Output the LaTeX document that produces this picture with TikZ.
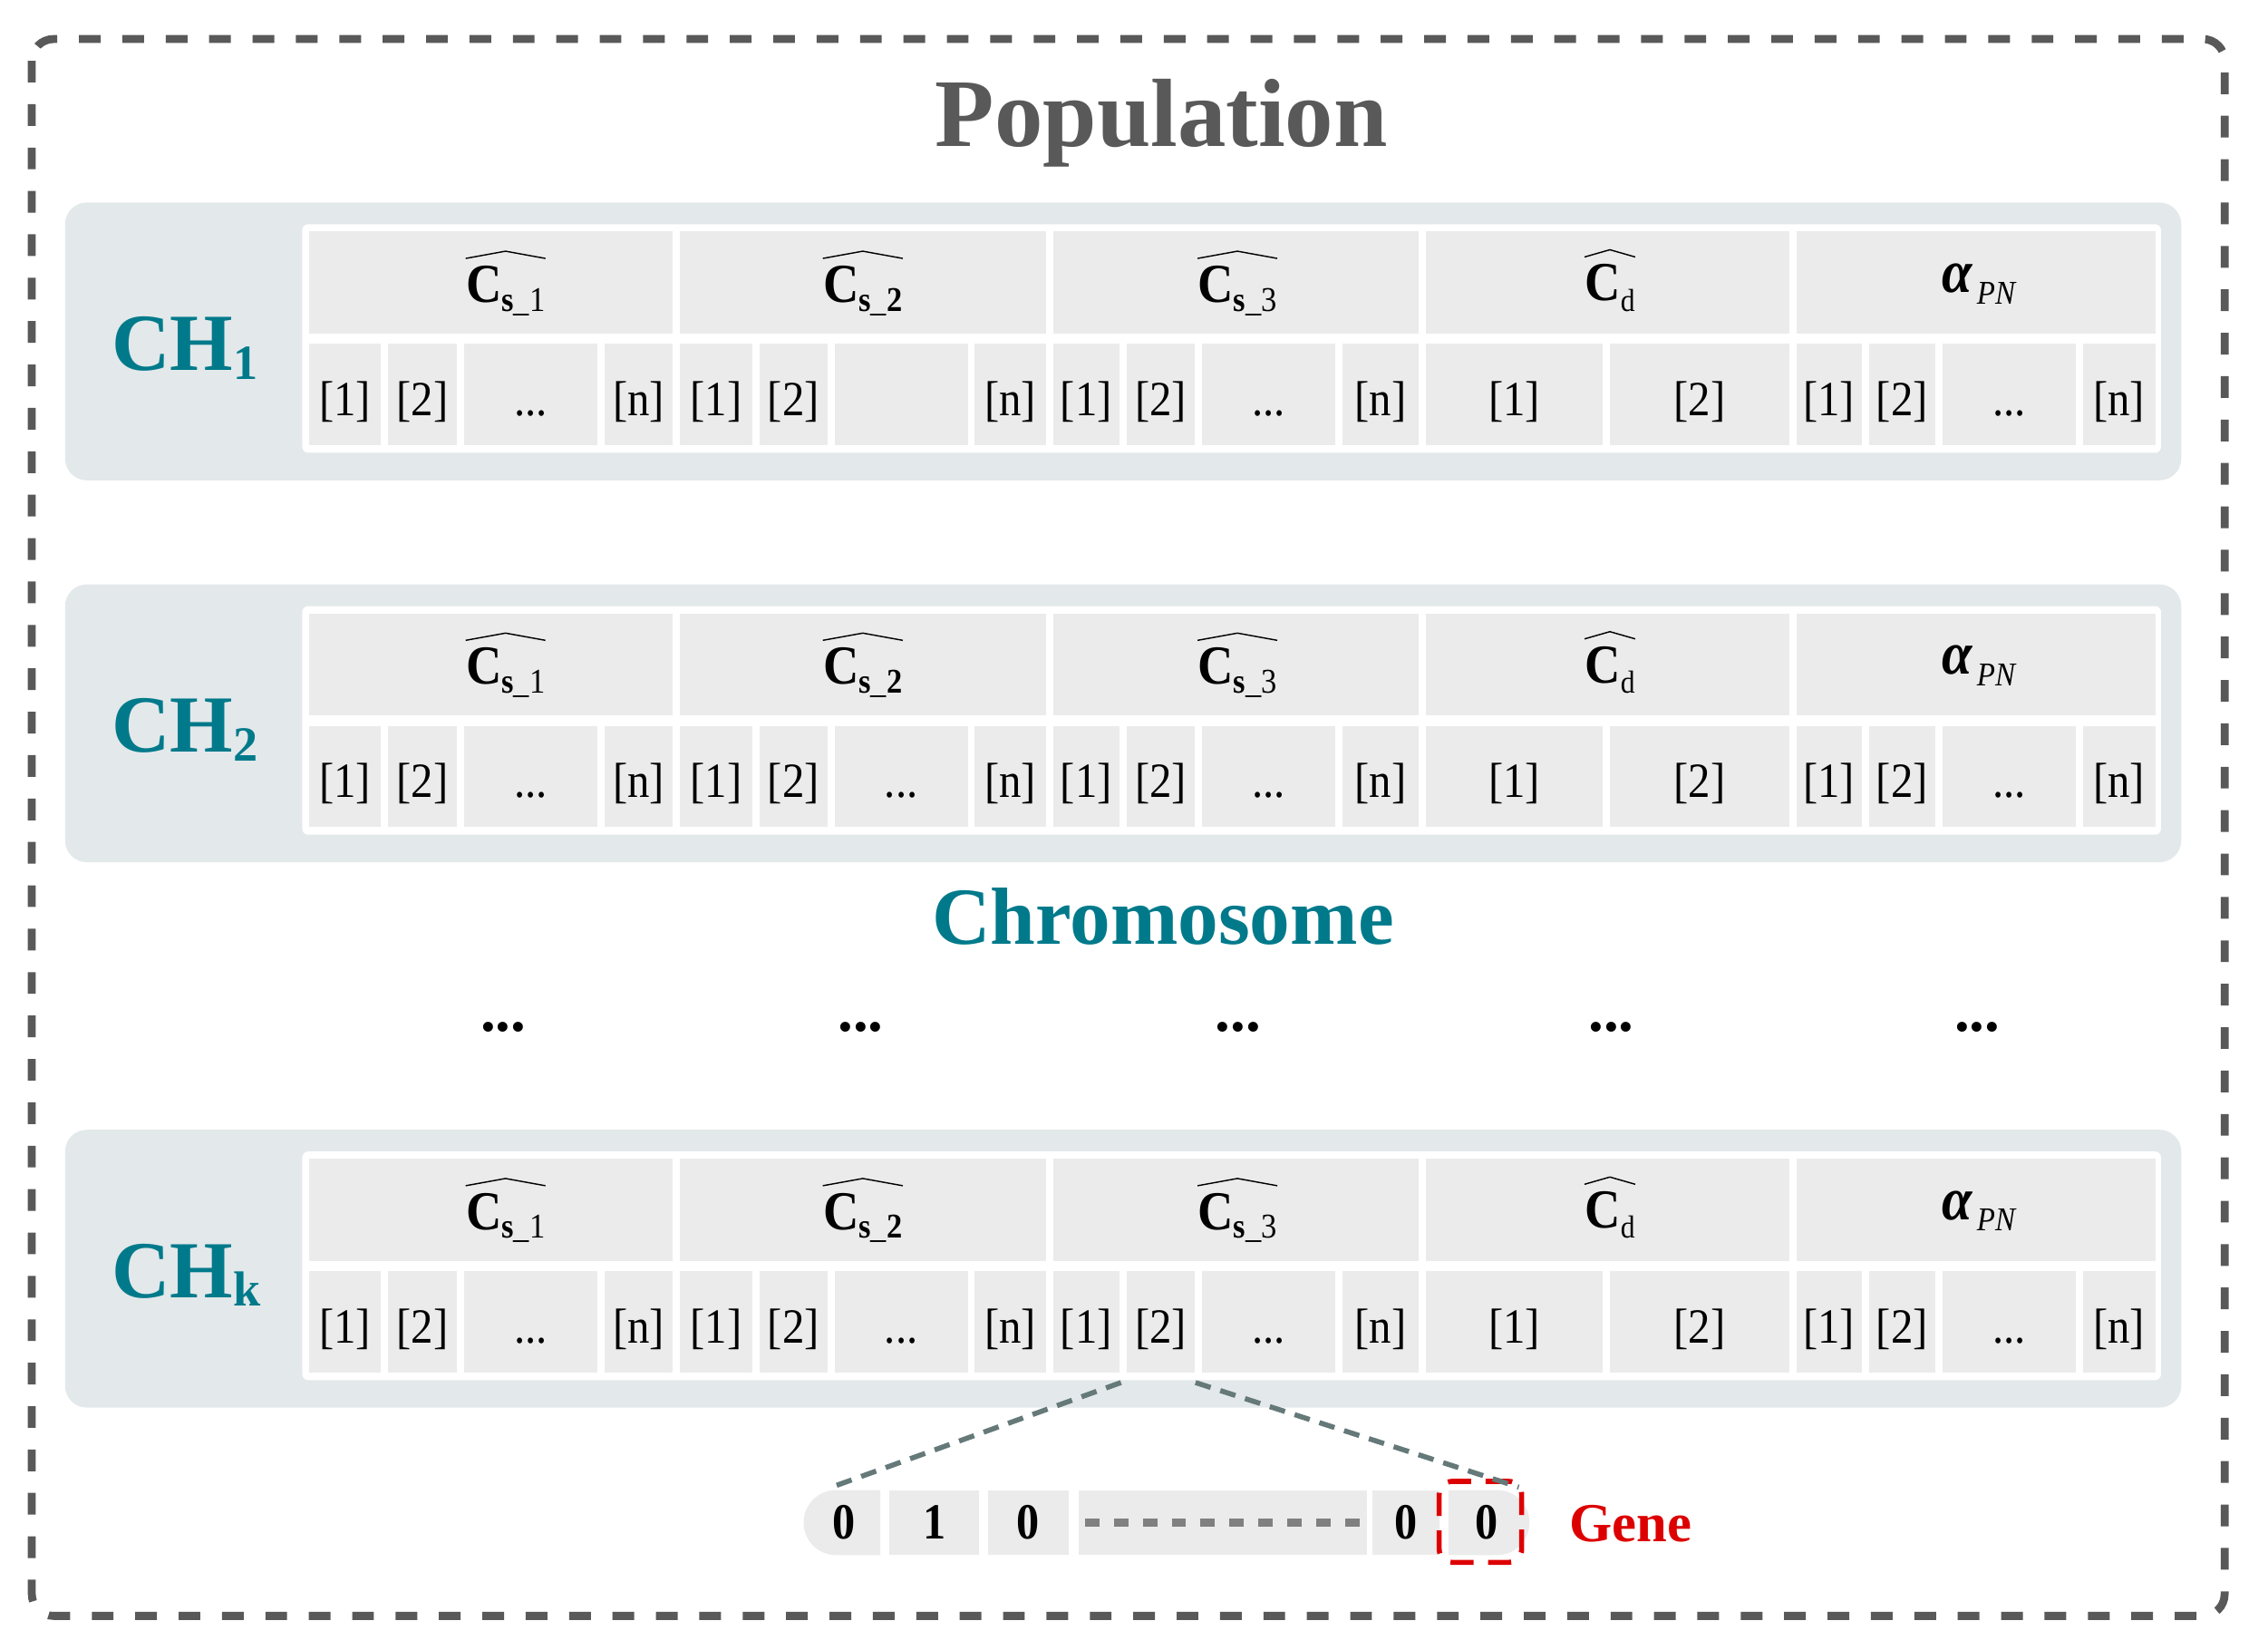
\documentclass[tikz,border=0pt]{standalone}
\usepackage{fontspec}
\setmainfont{Liberation Serif}
\newfontfamily\narrowserif{Liberation Serif}[FakeStretch=0.9]
\usetikzlibrary{shapes.misc}
\definecolor{panelbg}{HTML}{E3E8EA}
\definecolor{cellbg}{HTML}{EBEBEB}
\definecolor{tealc}{HTML}{007A8B}
\definecolor{titlegray}{HTML}{595959}
\definecolor{linkc}{HTML}{657979}
\definecolor{dashgray}{HTML}{808080}
\definecolor{genered}{HTML}{DD0000}
\newcommand\fs[1]{\fontsize{#1}{#1}\selectfont}
\newcommand\dd{...}
\newcommand\nix{}
\newcommand\CSub[1]{{\fs{38}\bfseries C}\raisebox{-6pt}{\fs{24}\textbf{s}\_#1}}
\newcommand\hatover[1]{\draw[hatline] ([yshift=5pt]#1.north west) -- ([yshift=10pt]#1.north) -- ([yshift=5pt]#1.north east);}
\newcommand\ChromRow[4]{%
  \fill[panel] (45,140+#1) rectangle (1508,332+#1);
  \fill[framebox] (209,155+#1) rectangle (1494,313+#1);
  \foreach \xa/\xb [count=\k] in {214/465,470/723,728/981,986/1237,1242/1490}{
    \node[cellbox, minimum width={\xb-\xa}, minimum height=70.6] (#2-h\k) at ({(\xa+\xb)/2},195.3+#1) {};
  }
  \foreach \xa/\xb/\tx [count=\k] in {214/263/[1],268/316/[2],321/413/\dd,418/465/[n],
      470/520/[1],525/572/[2],577/669/#4,674/723/[n],
      728/774/[1],779/826/[2],831/923/\dd,928/981/[n],
      986/1108/[1],1113/1237/[2],
      1242/1287/[1],1292/1338/[2],1343/1435/\dd,1440/1490/[n]}{
    \node[cellbox, minimum width={\xb-\xa}, minimum height=70] (#2-i\k) at ({(\xa+\xb)/2},272.7+#1) {\tx};
  }
  \node[chlabel] (#2-ch) at (77,256+#1) {CH\raisebox{-6pt}{\fs{34}#3}};
  \node[hdrlabel] (#2-l1) at (349.5,209+#1) {\CSub{1}};
  \node[hdrlabel] (#2-l2) at (596.5,209+#1) {\CSub{\textbf{2}}};
  \node[hdrlabel] (#2-l3) at (855.5,209+#1) {\CSub{3}};
  \node[hdrlabel] (#2-l4) at (1113,208+#1) {{\fs{38}\bfseries C}\raisebox{-7pt}{\fs{22}d}};
  \node[hdrlabel] (#2-l5) at (1368,202+#1) {{\fs{42}\bfseries\itshape α}\hspace{3pt}\raisebox{-8pt}{\fs{23}\itshape PN}};
  \hatover{#2-l1}
  \hatover{#2-l2}
  \hatover{#2-l3}
  \hatover{#2-l4}
}
\begin{document}
\begin{tikzpicture}[x=1pt,y=-1pt,
  panel/.style={fill=panelbg, rounded corners=15pt},
  framebox/.style={fill=white, rounded corners=4pt},
  cellbox/.style={fill=cellbg, inner sep=0pt, outer sep=0pt, text height=29pt, text depth=0pt, font=\narrowserif\fs{34}},
  hdrlabel/.style={inner sep=0pt, anchor=base, font=\narrowserif},
  hatline/.style={line width=0.9pt, black},
  chlabel/.style={text=tealc, font=\fs{56}\bfseries, inner sep=0pt, anchor=base west},
  outerline/.style={draw=titlegray, line width=5.5pt, rounded corners=15pt, dash pattern=on 15pt off 15pt},
  gcell/.style={fill=cellbg, inner sep=0pt, outer sep=0pt, text height=22pt, text depth=0pt, font=\narrowserif\fs{35}\bfseries, minimum height=45},
  link/.style={draw=linkc, line width=3.5pt, dash pattern=on 11pt off 7pt},
  gdash/.style={draw=dashgray, line width=6pt, dash pattern=on 10pt off 10pt},
  selbox/.style={draw=genered, line width=3.5pt, dash pattern=on 16pt off 10pt, rounded corners=9pt, inner sep=0pt, minimum width=57, minimum height=56},
  dotsstyle/.style={font=\fs{42}\bfseries, inner sep=0pt, anchor=base}
]
\useasboundingbox (0,0) rectangle (1568,1140);
\draw[outerline] (22,27) rectangle (1538,1117);
\node[text=titlegray, font=\fs{67}\bfseries, inner sep=0pt, anchor=base] (title) at (803,101) {Population};

\ChromRow{0}{r1}{1}{\nix}
\ChromRow{264}{r2}{2}{\dd}
\ChromRow{641}{r3}{k}{\dd}

\node[text=tealc, font=\fs{56}\bfseries, inner sep=0pt, anchor=base] (chrom) at (804,653) {Chromosome};
\foreach \x [count=\k] in {348,595,856,1114,1367}{
  \node[dotsstyle] (dots\k) at (\x,713) {...};
}

% gene row
\node[gcell, rounded rectangle, rounded rectangle right arc=none, minimum width=53] (g1) at (583.5,1052.5) {0};
\node[gcell, minimum width=62] (g2) at (646,1052.5) {1};
\node[gcell, minimum width=56] (g3) at (711,1052.5) {0};
\node[gcell, minimum width=199] (g4) at (845.5,1052.5) {};
\node[gcell, minimum width=46] (g5) at (972,1052.5) {0};
\node[gcell, rounded rectangle, rounded rectangle left arc=none, minimum width=56] (g6) at (1028,1052.5) {0};
\draw[gdash] ([xshift=4pt]g4.west) -- ([xshift=-5pt]g4.east);
\node[selbox] (sel) at (1023.5,1052) {};
\node[text=genered, font=\fs{38}\bfseries, inner sep=0pt, anchor=base west] (gene) at (1085,1066) {Gene};

\draw[link] ([xshift=-4pt,yshift=-7pt]r3-i10.south west) -- ([xshift=-8.5pt,yshift=2pt]g1.north);
\draw[link] ([xshift=0.5pt,yshift=-7pt]r3-i10.south east) -- ([xshift=22pt,yshift=2pt]g6.north);
\end{tikzpicture}
\end{document}
